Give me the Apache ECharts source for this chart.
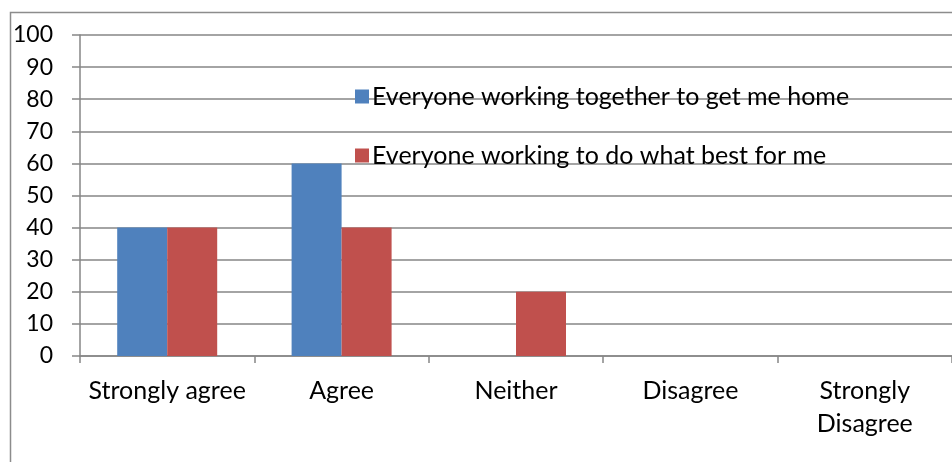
<!DOCTYPE html>
<html>
<head>
<meta charset="utf-8">
<script src="https://cdn.jsdelivr.net/npm/echarts@6/dist/echarts.min.js"></script>
<style>
  html, body { margin: 0; padding: 0; background: #ffffff; }
  #chart { width: 952px; height: 462px; }
</style>
</head>
<body>
<div id="chart"></div>
<script>
// Survey responses (percent of respondents)
const categories = ['Strongly agree', 'Agree', 'Neither', 'Disagree', 'Strongly Disagree'];
const seriesNames = [
  'Everyone working together to get me home',
  'Everyone working to do what best for me'
];
const homeValues = [40, 60, 0, 0, 0];
const bestValues = [40, 40, 20, 0, 0];
const yTicks = { min: 0, max: 100, interval: 10 };

const FONT = 'Lato';
const AXIS_GRAY = '#868686';

const chart = echarts.init(document.getElementById('chart'), null, { renderer: 'canvas' });

chart.setOption({
  animation: false,
  textStyle: { fontFamily: FONT },
  graphic: [{
    type: 'rect',
    shape: { x: 10.5, y: 12.5, width: 1000, height: 500 },
    style: { fill: 'none', stroke: '#8c8c8c', lineWidth: 1.5 },
    silent: true,
    z: -1
  }],
  grid: { left: 80, right: -2, top: 35, bottom: 106, containLabel: false },
  legend: {
    orient: 'vertical',
    left: 355,
    top: 84,
    padding: 0,
    itemWidth: 14,
    itemHeight: 14,
    itemGap: 34,
    icon: 'rect',
    data: seriesNames,
    textStyle: { fontFamily: FONT, fontSize: 25, lineHeight: 25, color: '#000', padding: [0, 0, 0, -2] }
  },
  xAxis: {
    type: 'category',
    data: categories,
    axisLine: { lineStyle: { color: AXIS_GRAY, width: 1.5 } },
    axisTick: { show: true, length: 7, alignWithLabel: false, lineStyle: { color: AXIS_GRAY, width: 1.5 } },
    axisLabel: {
      interval: 0,
      fontFamily: FONT, fontSize: 25, color: '#000', margin: 18, lineHeight: 33,
      formatter: v => v === 'Strongly Disagree' ? 'Strongly\nDisagree' : v
    },
    splitLine: { show: false }
  },
  yAxis: {
    type: 'value',
    min: yTicks.min,
    max: yTicks.max,
    interval: yTicks.interval,
    axisLine: { show: true, lineStyle: { color: AXIS_GRAY, width: 1.5 } },
    axisTick: { show: true, length: 8, lineStyle: { color: AXIS_GRAY, width: 1.5 } },
    axisLabel: { fontFamily: FONT, fontSize: 23, color: '#000', margin: 27 },
    splitLine: { show: true, lineStyle: { color: AXIS_GRAY, width: 1.5 } }
  },
  series: [
    {
      name: seriesNames[0],
      type: 'bar',
      data: homeValues,
      barWidth: 50,
      barGap: '0%',
      itemStyle: { color: '#4F81BD' }
    },
    {
      name: seriesNames[1],
      type: 'bar',
      data: bestValues,
      barWidth: 50,
      barGap: '0%',
      itemStyle: { color: '#C0504D' }
    }
  ]
});
</script>
</body>
</html>
